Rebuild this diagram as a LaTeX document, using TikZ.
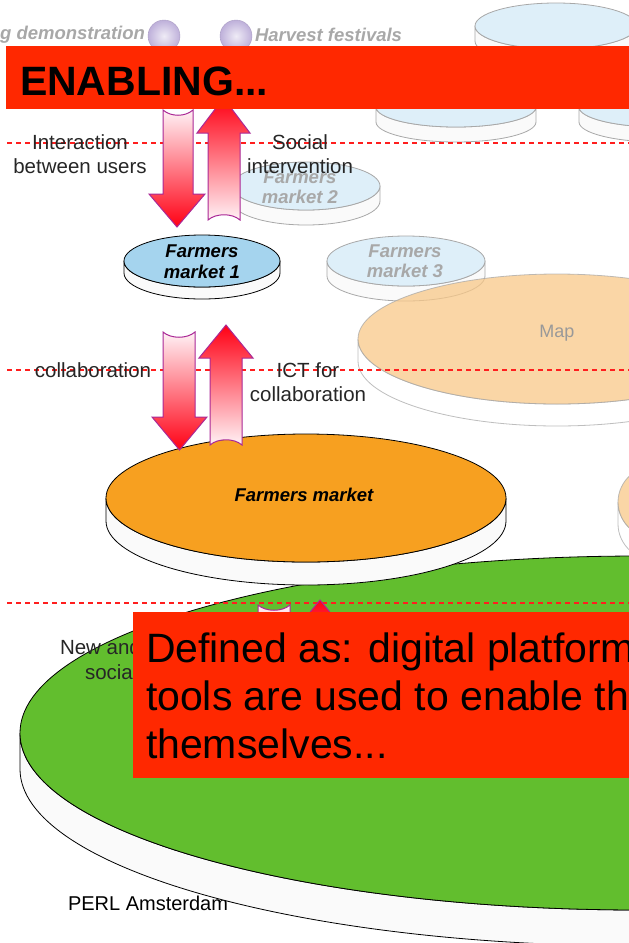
\documentclass[tikz,border=0pt]{standalone}
\usepackage{fontspec}
\setmainfont{Liberation Sans}
\definecolor{banner}{RGB}{255,40,0}
\definecolor{dashred}{RGB}{255,30,30}
\definecolor{fmblue}{RGB}{165,212,238}
\definecolor{paleblue}{RGB}{222,239,249}
\definecolor{paleedge}{RGB}{168,168,168}
\definecolor{fmorange}{RGB}{247,160,32}
\definecolor{mapfill}{RGB}{248,200,136}
\definecolor{fmgreen}{RGB}{98,190,46}
\definecolor{arrowred}{RGB}{255,0,20}
\definecolor{arrowpale}{RGB}{255,242,246}
\definecolor{arrowedge}{RGB}{170,40,150}
\definecolor{fadetext}{RGB}{168,168,168}
\definecolor{lavender}{RGB}{190,176,218}
\definecolor{sidewhite}{RGB}{250,250,250}
\newcommand{\drawdisc}[7]{%
  \path[#7] (#1-#3,#2) -- (#1-#3,#2+#5) arc[start angle=180,end angle=0,x radius=#3,y radius=#4]
     -- (#1+#3,#2) arc[start angle=0,end angle=180,x radius=#3,y radius=#4] -- cycle;
  \path[#6] (#1,#2) ellipse[x radius=#3,y radius=#4];
}
% down block arrow: xl xr tailY headY headL headR tipY
\newcommand{\downblock}[7]{%
  \path[blockarrow, top color=arrowpale, middle color=arrowred!75!arrowpale, bottom color=arrowred]
    (#1,#3) .. controls (#1+8,#3+7) and (#2-8,#3+7) .. (#2,#3) -- (#2,#4) -- (#6,#4)
    -- ({(#5+#6)/2},#7) -- (#5,#4) -- (#1,#4) -- cycle;
}
% up block arrow: xl xr tailY headY headL headR tipY
\newcommand{\upblock}[7]{%
  \path[blockarrow, top color=arrowred, middle color=arrowred!75!arrowpale, bottom color=arrowpale]
    (#1,#3) .. controls (#1+8,#3-7) and (#2-8,#3-7) .. (#2,#3) -- (#2,#4) -- (#6,#4)
    -- ({(#5+#6)/2},#7) -- (#5,#4) -- (#1,#4) -- cycle;
}
\begin{document}
\begin{tikzpicture}[x=1pt,y=-1pt,
  every node/.style={inner sep=0pt,outer sep=0pt},
  blockarrow/.style={draw=arrowedge,line width=1pt,line join=miter},
  fadetop/.style={fill=paleblue,draw=paleedge,line width=0.8pt},
  fadeside/.style={fill=sidewhite,draw=paleedge,line width=0.8pt},
  mainside/.style={fill=sidewhite,draw=black,line width=0.8pt},
  dashline/.style={draw=dashred,line width=1.3pt,dash pattern=on 5pt off 4pt},
  lbl/.style={font=\fontsize{20.5}{24}\selectfont,text=black!85,align=center},
  fadelbl/.style={font=\fontsize{18.5}{20.5}\selectfont\bfseries\itshape,text=fadetext,align=center},
  mainlbl/.style={font=\fontsize{18.5}{21}\selectfont\bfseries\itshape,text=black,align=center},
  bigtext/.style={font=\fontsize{41}{48}\selectfont,text=black,align=left},
  orb/.style={inner color=lavender!25!white,outer color=lavender,draw=lavender!90!black,line width=0.4pt}]
\useasboundingbox (0,0) rectangle (629,943);
\clip (0,0) rectangle (629,943);

% footer text (under the green disc)
\node[anchor=base west,font=\fontsize{20}{23}\selectfont,text=black] (perl) at (68,910) {PERL Amsterdam};

% faded top items
\node[anchor=east,font=\fontsize{18.5}{21}\selectfont\bfseries\itshape,text=fadetext] (demo) at (145,35) {g demonstration};
\node[anchor=west,font=\fontsize{18.5}{21}\selectfont\bfseries\itshape,text=fadetext] (harvest) at (255,35) {Harvest festivals};
\shade[orb] (164,36) circle (16);
\shade[orb] (236,36) circle (16);

% faded discs
\drawdisc{556}{26}{81}{23}{15}{fadetop}{fadeside}
\drawdisc{456}{107}{80}{20}{15}{fadetop}{fadeside}
\drawdisc{659}{107}{80}{20}{15}{fadetop}{fadeside}
\drawdisc{306}{186}{74}{24}{15}{fadetop}{fadeside}
\node[fadelbl] (fm2) at (300,187) {Farmers\\market 2};
\drawdisc{406}{261}{79}{25}{15}{fadetop}{fadeside}
\node[fadelbl] (fm3) at (405,261) {Farmers\\market 3};
\begin{scope}[opacity=0.75]
\drawdisc{557}{339}{199}{65}{22}{fill=mapfill,draw=paleedge,line width=0.8pt}{fill=white,draw=paleedge,line width=0.8pt}
\end{scope}
\node[font=\fontsize{18}{21}\selectfont,text=black!40] (map) at (557,333) {Map};
\begin{scope}[opacity=0.75]
\drawdisc{660}{502}{42}{38}{22}{fill=mapfill,draw=paleedge,line width=0.8pt}{fill=white,draw=paleedge,line width=0.8pt}
\end{scope}

% green disc
\drawdisc{640}{733}{620}{177}{36}{fill=fmgreen,draw=black,line width=0.8pt}{mainside}
% orange disc
\drawdisc{306}{498}{200}{64}{23}{fill=fmorange,draw=black,line width=0.8pt}{mainside}
\node[mainlbl] (fm) at (304,495) {Farmers market};
% farmers market 1
\drawdisc{202}{261}{78}{26}{12}{fill=fmblue,draw=black,line width=0.8pt}{mainside}
\node[mainlbl] (fm1) at (202,262) {Farmers\\market 1};

% dashed level lines
\coordinate (d1a) at (7,143); \coordinate (d1b) at (629,143);
\coordinate (d2a) at (7,370); \coordinate (d2b) at (629,370);
\coordinate (d3a) at (7,603); \coordinate (d3b) at (629,603);
\draw[dashline] (d1a) -- (d1b);
\draw[dashline] (d2a) -- (d2b);
\draw[dashline] (d3a) -- (d3b);

% labels
\node[lbl] (inter) at (80,154) {Interaction\\between users};
\node[lbl] (social) at (300,154) {Social\\intervention};
\node[lbl] (collab) at (93,370) {collaboration};
\node[lbl] (ict) at (308,382) {ICT for\\collaboration};
\node[lbl,anchor=west] (newand) at (60,647) {New and};
\node[lbl,anchor=west] (socl) at (85,672) {social};

% block arrows
\downblock{163}{193}{110}{194}{149}{205}{227}
\upblock{208}{240}{220}{133}{197}{250}{98}
\downblock{163}{195}{332}{417}{152}{207}{450}
\upblock{210}{242}{445}{358}{199}{253}{325}
\downblock{258}{290}{605}{690}{245}{303}{720}
\upblock{296}{344}{730}{632}{294}{346}{600}

% banners
\fill[banner] (6,46) rectangle (629,109);
\node[anchor=base west,font=\fontsize{41}{48}\selectfont\bfseries,text=black] (enab) at (20,95) {ENABLING...};
\fill[banner] (133,612) rectangle (629,778);
\node[bigtext,anchor=base west] (def) at (146,758) {Defined as: digital platform\\tools are used to enable th\\themselves...};
\end{tikzpicture}
\end{document}
